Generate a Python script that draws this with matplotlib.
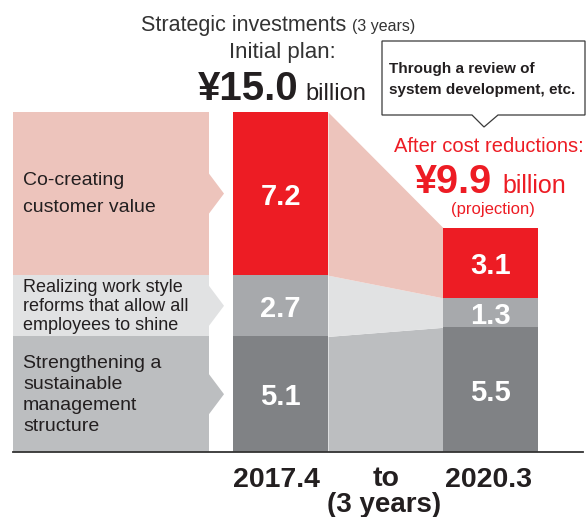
import numpy as np
import matplotlib.pyplot as plt
from matplotlib.patches import Polygon
from matplotlib.transforms import Affine2D

# ---------------------------------------------------------
# DATA
# ---------------------------------------------------------

periods = ["2017.4", "2020.3"]
totals = ["15.0", "9.9"]

# stacked bottom -> top
structure = [5.1, 5.5]
work_style = [2.7, 1.3]
customer = [7.2, 3.1]

series = [structure, work_style, customer]

labels = [
    ["Strengthening a", "sustainable", "management", "structure"],
    ["Realizing work style", "reforms that allow all", "employees to shine"],
    ["Co-creating", "customer value"],
]

# ---------------------------------------------------------
# STYLE
# ---------------------------------------------------------

plt.rcParams["font.family"] = ["Liberation Sans", "DejaVu Sans"]

W, H = 587, 517
base_px = 452                      # pixel row of the zero line
scale = 340 / 15.0                 # pixels per unit

bar_fc = ["#808285", "#a7a9ac", "#ed1c24"]
band_fc = ["#bcbec0", "#e1e2e3", "#edc4bc"]
dark = "#231f20"
red = "#ed1c24"

bar_x = [280.5, 490.5]
bar_w = 95
box_x, box_w = 111, 196
line_sp = [21, 19, 27]
label_fs = [14, 13, 14]

fig = plt.figure(figsize=(W / 100, H / 100), dpi=100)
ax = fig.add_axes([0, 0, 1, 1])
ax.set_xlim(0, W)
ax.set_ylim(-(H - base_px) / scale, base_px / scale)
ax.axis("off")

# pixel coords (y from top) -> figure
T = Affine2D().scale(1 / W, -1 / H).translate(0, 1) + fig.transFigure

# ---------------------------------------------------------
# BARS, BANDS, LABEL BOXES
# ---------------------------------------------------------

bottoms = np.zeros(2)
for i, vals in enumerate(series):
    vals = np.array(vals)
    ax.bar(bar_x, vals, width=bar_w, bottom=bottoms, color=bar_fc[i],
           linewidth=0, zorder=2)

    # connecting band between the two bars
    xl = bar_x[0] + bar_w / 2
    xr = bar_x[1] - bar_w / 2
    ax.fill_between([xl, xr], [bottoms[0], bottoms[1]],
                    [bottoms[0] + vals[0], bottoms[1] + vals[1]],
                    color=band_fc[i], linewidth=0, zorder=1)
    ax.plot([xr, xr], [0, bottoms[1] + vals[1]], color="white", lw=0.6, zorder=1.5)

    # label box on the left with arrow
    ax.bar([box_x], [vals[0]], width=box_w, bottom=[bottoms[0]],
           color=band_fc[i], linewidth=0, zorder=1)
    mid = bottoms[0] + vals[0] / 2
    hh = 20 / scale
    tri = Polygon([[box_x + box_w / 2, mid - hh], [box_x + box_w / 2 + 15, mid],
                   [box_x + box_w / 2, mid + hh]], closed=True,
                  facecolor=band_fc[i], edgecolor="none", zorder=1)
    ax.add_patch(tri)

    # label text
    mid_px = base_px - mid * scale
    n = len(labels[i])
    for k, line in enumerate(labels[i]):
        y = mid_px + 5 + (k - (n - 1) / 2) * line_sp[i]
        ax.text(23, y, line, transform=T, ha="left", va="baseline",
                fontsize=label_fs[i], color=dark, zorder=3)

    # values inside bars
    for j in range(2):
        c = base_px - (bottoms[j] + vals[j] / 2) * scale
        ax.text(bar_x[j], c + 11, f"{vals[j]:.1f}", transform=T, ha="center",
                va="baseline", fontsize=21, fontweight="bold", color="white",
                zorder=3)

    bottoms = bottoms + vals

ax.plot([13, 583], [0, 0], color="#333333", lw=1.3, zorder=3)

# ---------------------------------------------------------
# TEXTS
# ---------------------------------------------------------

ax.text(346, 31, "Strategic investments", transform=T, ha="right",
        va="baseline", fontsize=15.5, color="#333333")
ax.text(352, 31, "(3 years)", transform=T, ha="left", va="baseline",
        fontsize=11.5, color="#333333")
ax.text(282, 58, "Initial plan:", transform=T, ha="center", va="baseline",
        fontsize=16, color="#333333")
ax.text(298, 100, "¥" + totals[0], transform=T, ha="right", va="baseline",
        fontsize=29, fontweight="bold", color=dark)
ax.text(305, 100, "billion", transform=T, ha="left", va="baseline",
        fontsize=17, color=dark)

# callout
callout = Polygon([[382, 41], [585, 41], [585, 115], [498, 115], [484, 127],
                   [472, 115], [382, 115]], closed=True, transform=T,
                  facecolor="white", edgecolor="#3a3a3a", lw=0.9, zorder=4)
ax.add_patch(callout)
ax.text(389, 73, "Through a review of", transform=T, ha="left", va="baseline",
        fontsize=11, fontweight="bold", color=dark, zorder=5)
ax.text(389, 94, "system development, etc.", transform=T, ha="left",
        va="baseline", fontsize=11, fontweight="bold", color=dark, zorder=5)

ax.text(489, 152, "After cost reductions:", transform=T, ha="center",
        va="baseline", fontsize=14.5, color=red)
ax.text(492, 193, "¥" + totals[1], transform=T, ha="right", va="baseline",
        fontsize=28.5, fontweight="bold", color=red)
ax.text(502, 193, "billion", transform=T, ha="left", va="baseline",
        fontsize=18, color=red)
ax.text(493, 214, "(projection)", transform=T, ha="center", va="baseline",
        fontsize=12, color=red)

# period labels
ax.text(276, 487, periods[0], transform=T, ha="center", va="baseline",
        fontsize=20.5, fontweight="bold", color=dark)
ax.text(489, 487, periods[1], transform=T, ha="center", va="baseline",
        fontsize=20.5, fontweight="bold", color=dark)
ax.text(386, 486, "to", transform=T, ha="center", va="baseline",
        fontsize=20.5, fontweight="bold", color=dark)
ax.text(384, 512, "(3 years)", transform=T, ha="center", va="baseline",
        fontsize=20, fontweight="bold", color=dark)

fig.savefig("out.png", dpi=100)
plt.close()
